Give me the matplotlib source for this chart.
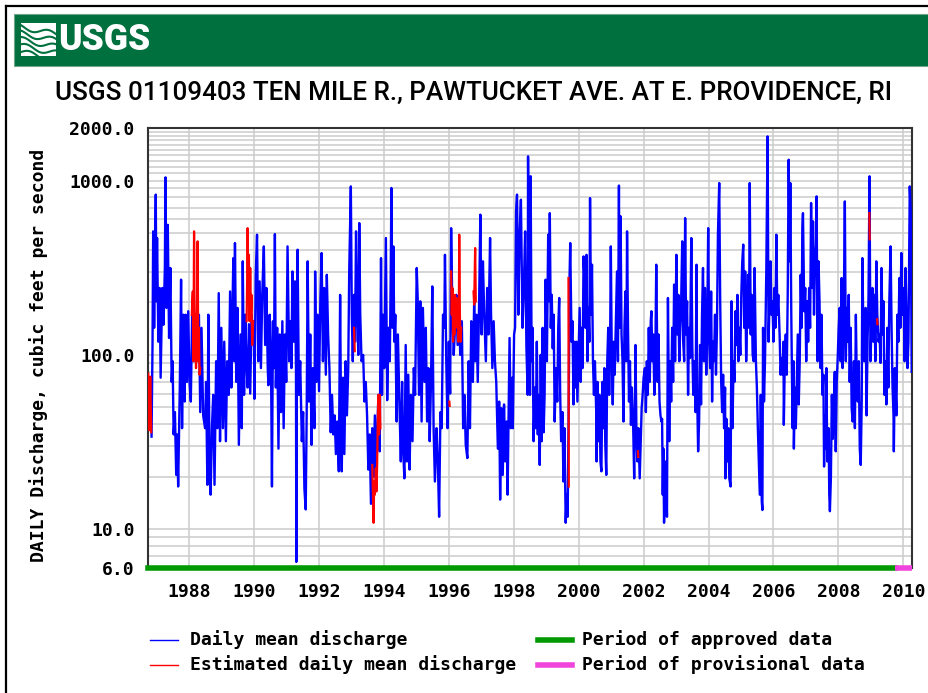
import matplotlib
matplotlib.use("Agg")

import numpy as np
import matplotlib.pyplot as plt
from matplotlib.lines import Line2D
from matplotlib.patches import Rectangle

# Daily mean discharge (cfs) by decimal year, Oct 1986 - mid 1998
years_early = [
    1986.84, 1986.87, 1986.89, 1986.92, 1986.97, 1986.99, 1987.01, 1987.05, 1987.09, 1987.12,
    1987.17, 1987.21, 1987.25, 1987.27, 1987.30, 1987.34, 1987.38, 1987.42, 1987.46, 1987.49,
    1987.52, 1987.56, 1987.60, 1987.63, 1987.66, 1987.71, 1987.75, 1987.78, 1987.82, 1987.86,
    1987.89, 1987.93, 1987.97, 1988.01, 1988.05, 1988.09, 1988.14, 1988.18, 1988.24, 1988.30,
    1988.34, 1988.38, 1988.43, 1988.49, 1988.52, 1988.56, 1988.59, 1988.63, 1988.66, 1988.70,
    1988.74, 1988.78, 1988.83, 1988.87, 1988.91, 1988.95, 1988.99, 1989.04, 1989.08, 1989.13,
    1989.17, 1989.22, 1989.26, 1989.30, 1989.33, 1989.36, 1989.39, 1989.41, 1989.45, 1989.49,
    1989.53, 1989.58, 1989.62, 1989.65, 1989.69, 1989.73, 1989.76, 1989.80, 1989.84, 1989.88,
    1989.92, 1989.95, 1989.99, 1990.01,
    1990.05, 1990.09, 1990.13, 1990.17, 1990.21, 1990.25, 1990.30, 1990.34, 1990.38, 1990.42,
    1990.44, 1990.48, 1990.52, 1990.55, 1990.58, 1990.61, 1990.64, 1990.67, 1990.71, 1990.75,
    1990.79, 1990.83, 1990.87, 1990.91, 1990.95, 1990.99, 1991.03, 1991.08, 1991.12, 1991.15,
    1991.18, 1991.22, 1991.26, 1991.29, 1991.30, 1991.32, 1991.34, 1991.38, 1991.42, 1991.47,
    1991.51, 1991.55, 1991.59, 1991.62, 1991.65, 1991.69, 1991.73, 1991.77, 1991.81, 1991.86,
    1991.88, 1991.92, 1991.96, 1992.00, 1992.04, 1992.08, 1992.12, 1992.16, 1992.21, 1992.24,
    1992.28, 1992.32, 1992.36, 1992.40, 1992.44, 1992.48, 1992.52, 1992.56, 1992.61, 1992.65,
    1992.68, 1992.70, 1992.74, 1992.78, 1992.82, 1992.86, 1992.90, 1992.93, 1992.98, 1993.01,
    1993.04, 1993.08, 1993.11, 1993.14, 1993.18, 1993.21, 1993.24, 1993.27, 1993.31, 1993.36,
    1993.40, 1993.44, 1993.48, 1993.52, 1993.56, 1993.60, 1993.64, 1993.68, 1993.72, 1993.76,
    1993.80, 1993.83, 1993.87, 1993.91,
    1993.94, 1993.97, 1994.01, 1994.06, 1994.10, 1994.14, 1994.18, 1994.21, 1994.23, 1994.26,
    1994.29, 1994.32, 1994.35, 1994.39, 1994.43, 1994.48, 1994.52, 1994.56, 1994.59, 1994.63,
    1994.67, 1994.71, 1994.75, 1994.79, 1994.83, 1994.88, 1994.92, 1994.96, 1995.01, 1995.04,
    1995.08, 1995.12, 1995.16, 1995.20, 1995.25, 1995.29, 1995.33, 1995.37, 1995.41, 1995.45,
    1995.49, 1995.53, 1995.57, 1995.62, 1995.66, 1995.70, 1995.74, 1995.78, 1995.82, 1995.86,
    1995.88, 1995.92, 1995.96, 1996.00, 1996.04, 1996.07, 1996.11, 1996.15, 1996.19, 1996.23,
    1996.27, 1996.31, 1996.35, 1996.40, 1996.44, 1996.48, 1996.52, 1996.57, 1996.61, 1996.65,
    1996.69, 1996.74, 1996.78, 1996.81, 1996.85, 1996.89, 1996.93, 1996.97, 1997.01, 1997.05,
    1997.09, 1997.14, 1997.18, 1997.22, 1997.27, 1997.30, 1997.34, 1997.38, 1997.42, 1997.46,
    1997.51, 1997.55, 1997.58, 1997.62, 1997.66, 1997.70, 1997.74, 1997.78, 1997.81, 1997.87,
    1997.91, 1997.95, 1997.97, 1998.01, 1998.04, 1998.07, 1998.10, 1998.14, 1998.18, 1998.22,
    1998.27, 1998.31, 1998.35, 1998.39, 1998.43,
]
cfs_early = [
    34, 114, 511, 143, 830, 203, 468, 119, 242, 74,
    242, 149, 315, 1042, 186, 557, 125, 315, 70, 92,
    35, 47, 20.5, 35, 17.6, 65, 270, 38, 170, 54,
    170, 70, 178, 70, 54, 170, 92, 143, 92, 170,
    47, 143, 45, 38, 70, 18, 170, 19.6, 15.8, 38,
    59, 18, 92, 38, 226, 32, 143, 38, 119, 32,
    92, 59, 231, 65, 170, 359, 92, 438, 70, 186,
    30.5, 131, 38, 344, 59, 170, 92, 65, 150, 60,
    170, 143, 156, 56,
    288, 489, 92, 264, 84, 221, 419, 114, 242, 84,
    67, 170, 92, 17.6, 156, 84, 493, 65, 143, 29,
    131, 47, 156, 38, 131, 70, 419, 92, 156, 84,
    301, 119, 264, 84, 6.5, 156, 401, 59, 92, 32,
    47, 17, 13, 47, 344, 54, 131, 30.5, 84, 38,
    301, 70, 170, 62, 203, 384, 92, 242, 77, 288,
    131, 84, 36, 59, 35, 45, 27, 41.5, 21.5, 221,
    38, 21.5, 74, 27, 92, 45, 84, 301, 925, 170,
    92, 221, 119, 511, 170, 100, 570, 170, 92, 100,
    54, 70, 45, 22, 35, 14, 38, 20, 45, 17,
    40, 59, 28, 359,
    59, 170, 84, 468, 55, 143, 92, 301, 906, 143,
    419, 119, 170, 41.5, 131, 49.5, 24.5, 70, 29, 19.6,
    114, 24.5, 77, 22, 59, 32, 84, 59, 315, 212,
    59, 203, 41.5, 186, 70, 143, 41.5, 84, 32, 70,
    247, 38, 18.8, 38, 24.5, 11.8, 47, 38, 170, 143,
    375, 92, 38, 119, 60, 533, 170, 100, 143, 221,
    114, 203, 100, 156, 38, 59, 30.5, 25.6, 92, 38,
    156, 70, 203, 92, 170, 70, 186, 637, 131, 344,
    170, 92, 242, 131, 468, 170, 84, 156, 92, 70,
    29, 54, 14.8, 49.5, 20.5, 52, 24.5, 41.5, 15.8, 125,
    38, 74, 38, 131, 143, 666, 830, 170, 489, 776,
    143, 242, 511, 109, 59,
]

# Daily mean discharge (cfs), mid 1998 - spring 2010
years_late = [
    1998.44, 1998.47, 1998.50, 1998.52, 1998.55, 1998.58, 1998.61, 1998.65, 1998.68, 1998.71,
    1998.74, 1998.77, 1998.80, 1998.83, 1998.86, 1998.89, 1998.92, 1998.95, 1998.98, 1999.02,
    1999.06, 1999.09, 1999.11, 1999.14, 1999.17, 1999.20, 1999.23, 1999.26, 1999.30, 1999.34,
    1999.37, 1999.40, 1999.43, 1999.46, 1999.50, 1999.53, 1999.56, 1999.60, 1999.63, 1999.66,
    1999.69, 1999.72, 1999.74, 1999.78, 1999.81, 1999.84, 1999.87, 1999.90, 1999.93, 1999.96,
    1999.99, 2000.03, 2000.06, 2000.09, 2000.12, 2000.15, 2000.18, 2000.21, 2000.24, 2000.27,
    2000.30, 2000.33, 2000.35, 2000.38, 2000.41, 2000.44, 2000.47, 2000.50, 2000.54, 2000.55,
    2000.58, 2000.61, 2000.64, 2000.67, 2000.70, 2000.73, 2000.76, 2000.79, 2000.82, 2000.85,
    2000.88, 2000.91, 2000.94, 2000.97, 2000.99, 2001.02, 2001.05, 2001.08, 2001.11, 2001.15,
    2001.18, 2001.21, 2001.24, 2001.26, 2001.29, 2001.32, 2001.35, 2001.38, 2001.41, 2001.44,
    2001.47, 2001.49, 2001.52, 2001.55, 2001.58, 2001.61, 2001.64, 2001.68, 2001.71, 2001.74,
    2001.75, 2001.78, 2001.81, 2001.84, 2001.88, 2001.91, 2001.94, 2001.97, 2002.00, 2002.04,
    2002.07, 2002.10, 2002.13, 2002.16, 2002.19, 2002.22, 2002.24, 2002.27, 2002.30, 2002.33,
    2002.36, 2002.39, 2002.43, 2002.46, 2002.49, 2002.52, 2002.55, 2002.57, 2002.59, 2002.61,
    2002.63, 2002.66, 2002.69, 2002.72, 2002.75, 2002.79, 2002.82, 2002.85, 2002.88, 2002.91,
    2002.94, 2002.97, 2003.01, 2003.04, 2003.07, 2003.10, 2003.13, 2003.15, 2003.19, 2003.22,
    2003.25, 2003.28, 2003.31, 2003.34, 2003.37, 2003.40, 2003.43, 2003.47, 2003.50, 2003.53,
    2003.57, 2003.60, 2003.63, 2003.65, 2003.68, 2003.71, 2003.74, 2003.77, 2003.80, 2003.83,
    2003.86, 2003.89, 2003.93, 2003.96, 2003.99, 2004.02, 2004.05, 2004.08, 2004.11, 2004.14,
    2004.17, 2004.20, 2004.23, 2004.26, 2004.29, 2004.33, 2004.36, 2004.39, 2004.42, 2004.45,
    2004.48, 2004.51, 2004.52, 2004.55, 2004.58, 2004.61, 2004.64, 2004.68, 2004.71, 2004.74,
    2004.77, 2004.80, 2004.83, 2004.86, 2004.89, 2004.92, 2004.95, 2004.98, 2005.01, 2005.04,
    2005.07, 2005.10, 2005.13, 2005.16, 2005.19, 2005.22, 2005.25, 2005.27, 2005.30, 2005.33,
    2005.36, 2005.39, 2005.42, 2005.46, 2005.49, 2005.52, 2005.55, 2005.58, 2005.61, 2005.64,
    2005.66, 2005.68, 2005.71, 2005.74, 2005.76, 2005.78, 2005.82, 2005.85, 2005.88, 2005.91,
    2005.94, 2005.97, 2006.00, 2006.03, 2006.06, 2006.09, 2006.12, 2006.15, 2006.19, 2006.22,
    2006.25, 2006.28, 2006.31, 2006.32, 2006.35, 2006.38, 2006.41, 2006.44, 2006.47, 2006.50,
    2006.52, 2006.55, 2006.59, 2006.62, 2006.63, 2006.66, 2006.69, 2006.72, 2006.75, 2006.78,
    2006.81, 2006.84, 2006.87, 2006.89, 2006.91, 2006.95, 2006.98, 2007.01, 2007.04, 2007.07,
    2007.10, 2007.13, 2007.16, 2007.19, 2007.22, 2007.25, 2007.28, 2007.31, 2007.33, 2007.36,
    2007.39, 2007.42, 2007.45, 2007.48, 2007.51, 2007.54, 2007.56, 2007.59, 2007.62, 2007.63,
    2007.66, 2007.70, 2007.72, 2007.74, 2007.77, 2007.80, 2007.83, 2007.86, 2007.89, 2007.92,
    2007.95, 2007.98, 2008.01, 2008.04, 2008.07, 2008.10, 2008.13, 2008.16, 2008.20, 2008.23,
    2008.26, 2008.29, 2008.32, 2008.35, 2008.38, 2008.41, 2008.44, 2008.48, 2008.51, 2008.54,
    2008.57, 2008.60, 2008.63, 2008.66, 2008.69, 2008.72, 2008.74, 2008.77, 2008.80, 2008.84,
    2008.87, 2008.90, 2008.93, 2008.96, 2008.99, 2009.02, 2009.05, 2009.08, 2009.11, 2009.14,
    2009.17, 2009.20, 2009.24, 2009.27, 2009.30, 2009.33, 2009.36, 2009.39, 2009.42, 2009.45,
    2009.48, 2009.51, 2009.54, 2009.57, 2009.61, 2009.64, 2009.67, 2009.70, 2009.71, 2009.74,
    2009.77, 2009.79, 2009.82, 2009.85, 2009.88, 2009.91, 2009.94, 2009.97, 2010.01, 2010.04,
    2010.07, 2010.10, 2010.13, 2010.16, 2010.18, 2010.20, 2010.23, 2010.26,
]
cfs_late = [
    1376, 221, 59, 1058, 92, 143, 32, 65, 38, 119,
    35, 59, 23.4, 100, 32, 143, 36, 59, 270, 92,
    489, 203, 650, 143, 221, 109, 170, 41.5, 84, 54,
    143, 212, 59, 32, 47, 18.8, 38, 10.9, 15.8, 11.8,
    45, 288, 438, 119, 156, 52, 119, 65, 119, 54,
    92, 186, 70, 143, 84, 367, 264, 143, 375, 92,
    186, 119, 793, 170, 329, 92, 59, 92, 47, 24.5,
    70, 32, 59, 24.5, 21.5, 70, 38, 84, 30.5, 20.5,
    92, 143, 59, 131, 419, 92, 52, 119, 77, 170,
    301, 92, 935, 143, 623, 131, 92, 41.5, 143, 231,
    92, 511, 143, 54, 92, 39.7, 65, 38, 19.6, 59,
    114, 35, 24.5, 38, 19.6, 32, 49.5, 59, 74, 84,
    47, 92, 59, 143, 70, 156, 178, 92, 131, 59,
    92, 329, 70, 131, 54, 45, 41.5, 43, 15.8, 29,
    10.9, 19.6, 24.5, 11.8, 212, 32, 92, 54, 143, 70,
    253, 92, 375, 131, 221, 92, 143, 170, 448, 119,
    92, 609, 131, 203, 59, 143, 96, 468, 114, 59,
    92, 47, 329, 59, 28, 41.5, 114, 52, 170, 315,
    92, 242, 77, 143, 533, 119, 84, 231, 54, 119,
    92, 170, 77, 143, 489, 967, 203, 70, 47, 77,
    38, 65, 19.6, 43, 24.5, 38, 19.6, 17.6, 203, 38,
    92, 70, 178, 114, 221, 92, 143, 100, 221, 344,
    429, 143, 301, 92, 170, 288, 143, 967, 131, 221,
    100, 92, 315, 92, 65, 38, 24.5, 15.8, 59, 14.5,
    12.9, 143, 54, 92, 170, 301, 1790, 119, 203, 344,
    170, 203, 119, 242, 143, 489, 170, 221, 131, 77,
    96, 77, 119, 39.7, 92, 131, 77, 221, 1315, 344,
    967, 170, 38, 92, 29, 65, 38, 70, 131, 52,
    92, 288, 143, 533, 650, 178, 242, 92, 203, 119,
    242, 143, 743, 242, 583, 170, 344, 429, 811, 92,
    344, 203, 84, 170, 59, 77, 22.9, 45, 29, 84,
    24.5, 38, 15.8, 12.7, 19.6, 59, 33, 54, 80, 28,
    70, 96, 143, 186, 92, 276, 84, 131, 759, 92,
    186, 119, 221, 70, 143, 49.5, 41.5, 92, 38, 170,
    65, 54, 92, 29, 23.4, 54, 359, 143, 92, 186,
    45, 119, 221, 1057, 92, 143, 242, 119, 221, 92,
    344, 170, 119, 131, 90, 315, 131, 203, 59, 92,
    52, 143, 65, 203, 419, 143, 65, 45, 28, 84,
    59, 45, 170, 119, 276, 143, 384, 170, 242, 92,
    315, 170, 84, 119, 344, 925, 666, 80,
]

# Estimated daily mean discharge (separate estimated periods)
est_years = [
    [1986.74, 1986.77, 1986.80, 1986.83],
    [1988.08, 1988.11, 1988.13, 1988.15, 1988.17, 1988.19, 1988.21, 1988.24, 1988.26, 1988.28,
     1988.30, 1988.32, 1988.34],
    [1989.77, 1989.79, 1989.80, 1989.82, 1989.84, 1989.86, 1989.88, 1989.90, 1989.92, 1989.94,
     1989.97],
    [1993.08, 1993.10],
    [1993.64, 1993.66, 1993.68, 1993.70, 1993.72, 1993.75, 1993.77, 1993.79, 1993.81, 1993.83,
     1993.85, 1993.87, 1993.89],
    [1996.015, 1996.025],
    [1996.07, 1996.09, 1996.11, 1996.13, 1996.15, 1996.17, 1996.19, 1996.21, 1996.23, 1996.25,
     1996.27, 1996.29, 1996.31, 1996.32, 1996.34, 1996.36, 1996.38],
    [1996.76, 1996.78, 1996.81, 1996.83],
    [1999.685, 1999.695],
    [2001.825, 2001.835],
    [2008.955, 2008.965],
    [2009.195, 2009.205],
]
est_cfs = [
    [78, 37, 75, 36],
    [170, 231, 92, 511, 131, 170, 84, 186, 448, 92, 143, 77, 84],
    [156, 315, 533, 221, 375, 156, 315, 170, 221, 114, 156],
    [143, 105],
    [23.4, 15.8, 10.9, 18.8, 15.8, 22.4, 16.5, 23.4, 41.5, 59, 35, 59, 38],
    [54, 51],
    [301, 170, 242, 119, 203, 131, 221, 143, 212, 156, 203, 119, 221, 489, 170, 119, 143],
    [231, 194, 410, 203],
    [276, 17.6],
    [28, 26],
    [650, 460],
    [160, 150],
]

# Data-quality periods
record_start = 1986.74
provisional_start = 2009.75
record_end = 2010.26

x_ticks = list(range(1988, 2011, 2))
y_major = [6, 10, 100, 1000, 2000]
y_labels = ["6.0", "10.0", "100.0", "1000.0", "2000.0"]
y_minor = ([7, 8, 9] + list(range(20, 100, 10)) + list(range(200, 1000, 100))
           + list(range(1100, 2000, 100)))

title = "USGS 01109403 TEN MILE R., PAWTUCKET AVE. AT E. PROVIDENCE, RI"
mono = {"family": "DejaVu Sans Mono", "weight": "bold", "size": 13}
usgs_green = "#00703F"

W, H = 929, 693
fig = plt.figure(figsize=(W / 100, H / 100), dpi=100)
fig.patch.set_facecolor("white")


def fx(px):
    return px / W


def fy(py):
    return 1 - py / H


def fit_width(txt, target_px):
    # rescale a text so it spans target_px pixels
    renderer = fig.canvas.get_renderer()
    w = txt.get_window_extent(renderer=renderer).width
    txt.set_fontsize(txt.get_fontsize() * target_px / w)


# page border (top and left)
fig.add_artist(Line2D([fx(6), 1], [fy(6), fy(6)], color="black", lw=1.6))
fig.add_artist(Line2D([fx(6), fx(6)], [fy(6), 0], color="black", lw=1.6))

# green banner with logo
banner = Rectangle((fx(14), fy(66)), 1 - fx(14), fy(14) - fy(66),
                   facecolor=usgs_green, edgecolor="#6fa58a", lw=0.8, zorder=-1)
fig.add_artist(banner)
logo = fig.add_axes([fx(21), fy(56), fx(35), fy(23) - fy(56)])
logo.set_zorder(2)
logo.axis("off")
logo.set_xlim(0, 1)
logo.set_ylim(0, 1)
logo.add_patch(Rectangle((0, 0), 1, 1, facecolor="white", edgecolor="none", zorder=0))
wx = np.linspace(0, 1, 60)
for k in range(5):
    logo.plot(wx, 0.12 + k * 0.19 + 0.08 * np.sin(wx * 7 + k * 0.6) - 0.22 * wx,
              color=usgs_green, lw=1.5, zorder=1)
usgs = fig.text(fx(58), fy(40), "USGS", color="white", fontsize=30, fontweight="heavy",
                family=["Roboto", "DejaVu Sans"], va="center", ha="left")
fit_width(usgs, 92)

head = fig.text(fx(474), fy(93), title, fontsize=18, fontweight="medium",
                family=["Roboto", "DejaVu Sans"], ha="center", va="center")
fit_width(head, 838)

ax = fig.add_axes([fx(148.3), fy(568), fx(911.7) - fx(148.3), fy(128) - fy(568)])
ax.set_yscale("log")
ax.set_xlim(record_start, record_end)
ax.set_ylim(6, 2000)

ax.plot(years_early + years_late, cfs_early + cfs_late, color="#0000FF", lw=1.7, zorder=3)
for yrs, vals in zip(est_years, est_cfs):
    ax.plot(yrs, vals, color="#FF0000", lw=1.6, zorder=4)

# approved / provisional bar along the bottom
ax.plot([record_start, provisional_start], [6, 6], color="#009900", lw=4,
        solid_capstyle="projecting", clip_on=False, zorder=5)
ax.plot([provisional_start, record_end], [6, 6], color="#F044DC", lw=4,
        solid_capstyle="butt", clip_on=False, zorder=5)

ax.set_yticks(y_major)
ax.set_yticklabels(y_labels, fontdict=mono)
ax.set_yticks(y_minor, minor=True)
ax.yaxis.set_minor_formatter(plt.NullFormatter())
ax.set_xticks(x_ticks)
ax.set_xticklabels([str(y) for y in x_ticks], fontdict=mono)
ax.tick_params(which="both", length=0)
ax.tick_params(axis="y", pad=10)
ax.tick_params(axis="x", pad=11)
ax.grid(True, which="both", color="#CCCCCC", lw=1.1, zorder=0)
ax.set_axisbelow(True)
for sp in ax.spines.values():
    sp.set_color("#333333")
    sp.set_linewidth(1.5)

ax.set_ylabel("DAILY Discharge, cubic feet per second", fontdict=mono)
ax.yaxis.set_label_coords(-0.131, 0.484)

# legend
legend_rows = [fy(640), fy(665)]
fig.add_artist(Line2D([fx(150), fx(178)], [legend_rows[0]] * 2, color="#0000FF", lw=1))
fig.add_artist(Line2D([fx(150), fx(178)], [legend_rows[1]] * 2, color="#FF0000", lw=1))
fig.add_artist(Line2D([fx(538), fx(572)], [legend_rows[0]] * 2, color="#009900", lw=4))
fig.add_artist(Line2D([fx(538), fx(572)], [legend_rows[1]] * 2, color="#F044DC", lw=4))
fig.text(fx(190), legend_rows[0], "Daily mean discharge", va="center", **mono)
fig.text(fx(190), legend_rows[1], "Estimated daily mean discharge", va="center", **mono)
fig.text(fx(582), legend_rows[0], "Period of approved data", va="center", **mono)
fig.text(fx(582), legend_rows[1], "Period of provisional data", va="center", **mono)

fig.savefig("out.png", dpi=100)
